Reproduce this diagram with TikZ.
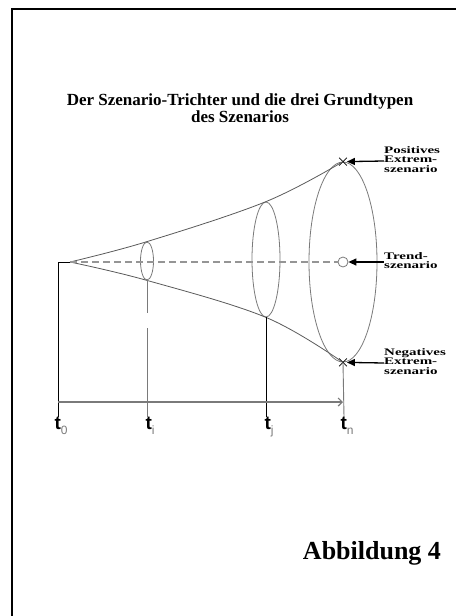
\documentclass[tikz,border=0pt]{standalone}
\usepackage{fontspec}
\setmainfont{Liberation Serif}
\setsansfont{Liberation Sans}
\usetikzlibrary{arrows.meta,positioning,shapes.geometric,shapes.misc}
\definecolor{szGrey}{HTML}{7A7A7A}
\newcommand{\widenote}[1]{\scalebox{1.5}[1]{\fontsize{10}{9.5}\selectfont\bfseries
  \begin{tabular}{@{}l@{}}#1\end{tabular}}}

\begin{document}
\begin{tikzpicture}[x=1pt,y=-1pt,
    funnel/.style={draw=black!65,line width=0.8pt},
    slice/.style={ellipse,draw=szGrey,line width=0.8pt,inner sep=0pt},
    tickline/.style={line width=0.9pt},
    xmark/.style={cross out,draw=black,line width=0.8pt,minimum size=7pt,inner sep=0pt},
    note/.style={anchor=west,inner sep=0pt},
    pointer/.style={-{Triangle[length=8pt,width=7pt]},line width=1.3pt},
    tlabel/.style={font=\sffamily\bfseries\fontsize{19}{19}\selectfont,anchor=north,inner sep=0pt}]

    \useasboundingbox (0,0) rectangle (456,616);
    \draw[line width=2pt] (12,616) -- (12,9) -- (456,9);

    % title
    \node[font=\fontsize{17}{17}\selectfont\bfseries,align=center] (title) at (240,108)
      {Der Szenario-Trichter und die drei Grundtypen\\des Szenarios};

    % funnel with its three slices
    \coordinate (apex) at (70,262);
    \node[slice,minimum width=13pt,minimum height=38pt] (e1) at (147,261) {};
    \node[slice,minimum width=28pt,minimum height=115pt] (e2) at (266,259.5) {};
    \node[slice,minimum width=68pt,minimum height=200pt] (e3) at (343,262) {};
    \node[xmark] (pos) at (e3.north) {};
    \node[xmark] (neg) at (e3.south) {};
    \node[circle,draw=szGrey,fill=white,line width=0.8pt,minimum size=10pt,inner sep=0pt]
      (trend) at (e3.center) {};
    \draw[funnel] plot[smooth,tension=0.6] coordinates {(apex) (e1.north) (e2.north) (pos.center)};
    \draw[funnel] plot[smooth,tension=0.6] coordinates {(apex) (e1.south) (e2.south) (neg.center)};
    \draw[szGrey!80,line width=1.6pt,dash pattern=on 7pt off 4pt] (apex) -- (trend.west);

    % time axis
    \coordinate (t0top) at (58,262);
    \coordinate (t0) at (58,417);
    \coordinate (ti) at (147,417);
    \coordinate (tj) at (266,417);
    \coordinate (tn) at (344,417);
    \draw[tickline] (apex) -- (t0top) -- (t0);
    \draw[tickline,szGrey,dash pattern=on 33pt off 15pt on 200pt] (e1.south) -- (ti);
    \draw[tickline] (e2.south) -- (tj);
    \draw[tickline,szGrey] (neg.center) -- (tn);
    \draw[szGrey,line width=1.2pt,-{Straight Barb[length=4pt]}] (58,402) coordinate (axstart) -- (343,402);

    \node[tlabel] (lt0) at ([xshift=3pt]t0) {t\raisebox{-5pt}{\mdseries\color{szGrey}\fontsize{12}{12}\selectfont 0}};
    \node[tlabel] (lti) at ([xshift=3pt]ti) {t\raisebox{-5pt}{\mdseries\color{szGrey}\fontsize{12}{12}\selectfont i}};
    \node[tlabel] (ltj) at ([xshift=3pt]tj) {t\raisebox{-5pt}{\mdseries\color{szGrey}\fontsize{12}{12}\selectfont j}};
    \node[tlabel] (ltn) at ([xshift=3pt]tn) {t\raisebox{-5pt}{\mdseries\color{szGrey}\fontsize{12}{12}\selectfont n}};

    % the three basic types
    \node[note] (npos) at (384,161) {\widenote{Positives\\Extrem-\\szenario}};
    \node[note] (ntrend) at (384,262) {\widenote{Trend-\\szenario}};
    \node[note] (nneg) at (384,363) {\widenote{Negatives\\Extrem-\\szenario}};
    \draw[pointer] (npos.west) -- (pos.east);
    \draw[pointer] (ntrend.west) -- (trend.east);
    \draw[pointer] (nneg.west) -- (neg.east);

    \node[font=\fontsize{26}{30}\selectfont\bfseries] (fig) at (372,553) {Abbildung 4};
  \end{tikzpicture}
\end{document}
